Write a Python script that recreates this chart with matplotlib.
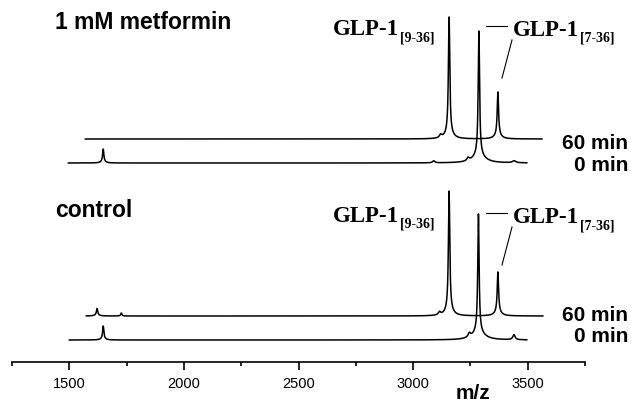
import numpy as np
import matplotlib
matplotlib.use("Agg")
import matplotlib.pyplot as plt

# spectra: (start m/z, end m/z, vertical offset)
traces = {
    "met_60": (1570, 3562, 223),
    "met_0": (1496, 3496, 199),
    "ctl_60": (1574, 3566, 46),
    "ctl_0": (1500, 3496, 22),
}
# peaks per trace: (centre m/z, height, half width)
peaks = {
    "met_60": [(3157, 116, 3.5), (3157, 6, 18), (3370, 43, 3.5), (3370, 4, 16), (3120, 3, 6)],
    "met_0": [(1648, 12, 3), (1648, 2, 10), (3287, 124, 3.5), (3287, 8, 30),
              (3240, 3, 6), (3090, 2, 6), (3440, 2, 8)],
    "ctl_60": [(1621, 6, 3), (1621, 1.5, 10), (1727, 3, 3), (3157, 119, 3.5), (3157, 6, 18),
               (3370, 40, 3.5), (3370, 4, 16), (3115, 3, 6)],
    "ctl_0": [(1648, 12, 3), (1648, 2, 10), (3285, 118, 3.5), (3285, 8, 30),
              (3245, 4, 6), (3440, 5, 6)],
}

xticks_major = [1500, 2000, 2500, 3000, 3500]
xticks_minor = [1250, 1750, 2250, 2750, 3250, 3750]

W, H = 631, 403
fig = plt.figure(figsize=(W / 100, H / 100), dpi=100)
ax = fig.add_axes([12 / W, (H - 362) / H, 573 / W, 362 / H])
ax.set_xlim(1250, 3750)
ax.set_ylim(0, 362)

for key, (x0, x1, off) in traces.items():
    x = np.linspace(x0, x1, 6000)
    y = np.full_like(x, off, dtype=float)
    for c, h, w in peaks[key]:
        y += h * w**2 / ((x - c) ** 2 + w**2)
    ax.plot(x, y, color="black", lw=1.1)

for s in ["left", "right", "top"]:
    ax.spines[s].set_visible(False)
ax.spines["bottom"].set_linewidth(1.2)
ax.set_yticks([])
ax.set_xticks(xticks_major)
ax.set_xticks(xticks_minor, minor=True)
ax.tick_params(axis="x", which="major", length=6, width=1.2, pad=5,
               labelsize=10.5, labelfontfamily="Liberation Sans")
ax.tick_params(axis="x", which="minor", length=3, width=1.2)


def px(x, y):
    return x / W, 1 - y / H


sans = "Liberation Sans"
serif = "Liberation Serif"

fig.text(*px(55, 29), "1 mM metformin", family=sans, weight="bold", fontsize=16.5)
fig.text(*px(55, 217), "control", family=sans, weight="bold", fontsize=16.5)

for b60, b0 in [(149, 171), (321, 342)]:
    fig.text(*px(628, b60), "60 min", family=sans, weight="bold", fontsize=15,
             ha="right")
    fig.text(*px(628, b0), "0 min", family=sans, weight="bold", fontsize=15,
             ha="right")

fig.text(*px(473, 399), "m/z", family=sans, weight="bold", fontsize=15, ha="center")

renderer = fig.canvas.get_renderer()
for dy in [0, 187]:
    for x0, base, sub in [(333, 35, "[9-36]"), (513, 36, "[7-36]")]:
        t = fig.text(*px(x0, base + dy), "GLP-1", family=serif, weight="bold",
                     fontsize=16.5)
        x_end = t.get_window_extent(renderer).x1
        fig.text(x_end / W + 1 / W, 1 - (base + 6 + dy) / H, sub, family=serif,
                 weight="bold", fontsize=10)
    fig.add_artist(plt.Line2D([486 / W, 507 / W], [1 - (26 + dy) / H, 1 - (26 + dy) / H],
                              color="black", lw=0.8))
    fig.add_artist(plt.Line2D([512 / W, 502 / W], [1 - (40 + dy) / H, 1 - (78 + dy) / H],
                              color="black", lw=0.8))

fig.savefig("out.png", dpi=100)
